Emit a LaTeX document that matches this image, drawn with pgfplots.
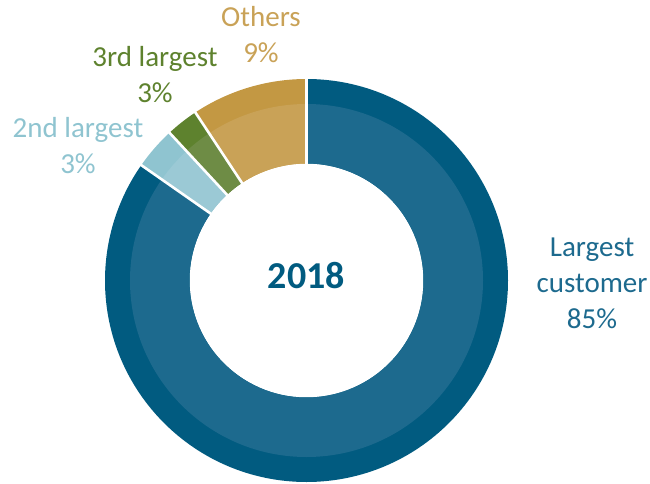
\documentclass[border=0pt]{standalone}
\usepackage{pgfplots}
\usepackage{pgfplotstable}
\pgfplotsset{compat=1.18}
\usepackage{fontspec}
\setmainfont{Carlito}
\definecolor{bigDark}{HTML}{015B80}
\definecolor{bigLight}{HTML}{1D6A8E}
\definecolor{blueDark}{HTML}{8FC4D0}
\definecolor{blueLight}{HTML}{9BC9D5}
\definecolor{greenDark}{HTML}{5E822E}
\definecolor{greenLight}{HTML}{6E8C45}
\definecolor{tanDark}{HTML}{C39843}
\definecolor{tanLight}{HTML}{C9A257}
\pgfplotstableread{
name value dark light
Largest 84.7 bigDark bigLight
Second 3.4 blueDark blueLight
Third 2.6 greenDark greenLight
Others 9.3 tanDark tanLight
}\shares
\def\cx{306.5}
\def\cy{202.5}
\def\ro{201.5}
\def\rm{176.5}
\def\ri{117}
\tikzset{lbl/.style={font=\fontsize{29}{36}\selectfont, align=center, inner sep=0pt}}
\begin{document}
\begin{tikzpicture}
\begin{axis}[
  scale only axis, width=650pt, height=483pt,
  xmin=0, xmax=650, ymin=0, ymax=483,
  hide axis, clip=false,
]
\path (axis cs:0,0) rectangle (axis cs:650,483);
\xdef\startangle{90}
\pgfplotsinvokeforeach{0,...,3}{
  \pgfplotstablegetelem{#1}{value}\of\shares \let\val\pgfplotsretval
  \pgfplotstablegetelem{#1}{dark}\of\shares \let\cdark\pgfplotsretval
  \pgfplotstablegetelem{#1}{light}\of\shares \let\clight\pgfplotsretval
  \pgfmathsetmacro\endangle{\startangle-3.6*\val}
  \edef\temp{%
    \noexpand\fill[\cdark] ({\cx+\ro*cos(\startangle)},{\cy+\ro*sin(\startangle)})
      arc[start angle=\startangle, end angle=\endangle, radius=\ro pt]
      -- ({\cx+\ri*cos(\endangle)},{\cy+\ri*sin(\endangle)})
      arc[start angle=\endangle, end angle=\startangle, radius=\ri pt] -- cycle;
    \noexpand\fill[\clight] ({\cx+\rm*cos(\startangle)},{\cy+\rm*sin(\startangle)})
      arc[start angle=\startangle, end angle=\endangle, radius=\rm pt]
      -- ({\cx+\ri*cos(\endangle)},{\cy+\ri*sin(\endangle)})
      arc[start angle=\endangle, end angle=\startangle, radius=\ri pt] -- cycle;
  }
  \temp
  \xdef\startangle{\endangle}
}
\xdef\startangle{90}
\pgfplotsinvokeforeach{0,...,3}{
  \pgfplotstablegetelem{#1}{value}\of\shares \let\val\pgfplotsretval
  \pgfmathsetmacro\endangle{\startangle-3.6*\val}
  \edef\temp{%
    \noexpand\draw[white, line width=2.6pt]
      ({\cx+(\ri-2)*cos(\startangle)},{\cy+(\ri-2)*sin(\startangle)})
      -- ({\cx+(\ro+2)*cos(\startangle)},{\cy+(\ro+2)*sin(\startangle)});
  }
  \temp
  \xdef\startangle{\endangle}
}
\node[text=bigDark, font=\fontsize{38}{44}\selectfont\bfseries, inner sep=0pt] at (axis cs:306.5,207) {2018};
\node[lbl, text=bigLight] at (axis cs:592,200) {Largest\\customer\\85\%};
\node[lbl, text=tanLight] at (axis cs:261,448) {Others\\9\%};
\node[lbl, text=greenDark] at (axis cs:155,408) {3rd largest\\3\%};
\node[lbl, text=blueDark] at (axis cs:78,337) {2nd largest\\3\%};
\end{axis}
\end{tikzpicture}
\end{document}
